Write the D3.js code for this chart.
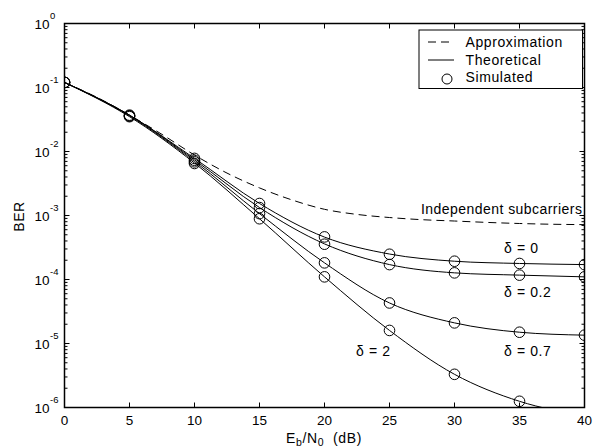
<!DOCTYPE html>
<html>
<head>
<meta charset="utf-8">
<script src="https://cdn.jsdelivr.net/npm/d3@7"></script>
<style>
  html, body { margin: 0; padding: 0; background: #fff; }
  svg { display: block; font-family: "Liberation Sans", Arial, sans-serif; }
</style>
</head>
<body>
<svg id="chart" width="593" height="448"></svg>
<script>
// ---------------- data ----------------
const snrTicks = [0, 5, 10, 15, 20, 25, 30, 35, 40];
const berTickExps = [0, -1, -2, -3, -4, -5, -6];

const snrPoints = [0, 5, 10, 15, 20, 25, 30, 35, 40];
const deltaLabels = ["δ = 0", "δ = 0.2", "δ = 0.7", "δ = 2"];

// theoretical BER curves
const theoDelta0   = [0.12, 0.037, 7.8e-3, 1.54e-3, 4.6e-4, 2.5e-4, 1.93e-4, 1.78e-4, 1.71e-4];
const theoDelta02  = [0.12, 0.037, 7.4e-3, 1.33e-3, 3.6e-4, 1.71e-4, 1.27e-4, 1.17e-4, 1.10e-4];
const theoDelta07  = [0.12, 0.036, 7.0e-3, 1.07e-3, 1.82e-4, 4.3e-5, 2.1e-5, 1.5e-5, 1.35e-5];
const theoDelta2   = [0.12, 0.035, 6.6e-3, 8.9e-4, 1.1e-4, 1.6e-5, 3.3e-6, 1.25e-6, 7.4e-7];

// simulated BER points
const simDelta0   = [0.12, 0.037, 7.8e-3, 1.54e-3, 4.63e-4, 2.48e-4, 1.93e-4, 1.78e-4, 1.71e-4];
const simDelta02  = [0.12, 0.036, 7.3e-3, 1.33e-3, 3.56e-4, 1.71e-4, 1.27e-4, 1.17e-4, 1.10e-4];
const simDelta07  = [0.12, 0.036, 6.9e-3, 1.07e-3, 1.82e-4, 4.3e-5, 2.1e-5, 1.5e-5, 1.35e-5];
const simDelta2   = [0.12, 0.035, 6.5e-3, 8.9e-4, 1.1e-4, 1.6e-5, 3.3e-6, 1.25e-6, 7.4e-7];

// approximation (independent subcarriers)
const approxSnr = [0, 2.5, 5, 7.5, 10, 12.5, 15, 17.5, 20, 22.5, 25, 27.5, 30, 32.5, 35, 37.5, 40];
const approxBer = [0.12, 0.07, 0.037, 0.0185, 8.8e-3, 4.6e-3, 2.7e-3, 1.75e-3, 1.25e-3, 1.04e-3, 9.3e-4, 8.6e-4, 8.2e-4, 7.8e-4, 7.5e-4, 7.3e-4, 7.2e-4];

const legendItems = ["Approximation", "Theoretical", "Simulated"];

// ---------------- layout ----------------
const svg = d3.select("#chart");
const L = 64.5, R = 584.5, T = 23.5, B = 407.5;
const TXT = 14, LS = 0.6;

const x = d3.scaleLinear().domain([0, 40]).range([L, R]);
const y = d3.scaleLog().domain([1e-6, 1]).range([B, T]);

const defs = svg.append("defs");
defs.append("clipPath").attr("id", "plotClip")
  .append("rect").attr("x", L).attr("y", T).attr("width", R - L).attr("height", B - T);

// ---------------- axes / ticks ----------------
const minorY = [];
for (let e = -6; e < 0; e++) for (let m = 2; m <= 9; m++) minorY.push(m * Math.pow(10, e));

const tickG = svg.append("g").attr("stroke", "#000").attr("stroke-width", 1);
snrTicks.forEach(v => {
  tickG.append("line").attr("x1", x(v)).attr("x2", x(v)).attr("y1", B).attr("y2", B - 5);
  tickG.append("line").attr("x1", x(v)).attr("x2", x(v)).attr("y1", T).attr("y2", T + 5);
});
berTickExps.forEach(e => {
  const yy = y(Math.pow(10, e));
  tickG.append("line").attr("x1", L).attr("x2", L + 5).attr("y1", yy).attr("y2", yy);
  tickG.append("line").attr("x1", R).attr("x2", R - 5).attr("y1", yy).attr("y2", yy);
});
minorY.forEach(v => {
  const yy = y(v);
  tickG.append("line").attr("x1", L).attr("x2", L + 3).attr("y1", yy).attr("y2", yy);
  tickG.append("line").attr("x1", R).attr("x2", R - 3).attr("y1", yy).attr("y2", yy);
});

// x tick labels
svg.append("g").selectAll("text").data(snrTicks).join("text")
  .attr("x", d => x(d)).attr("y", 425)
  .attr("text-anchor", "middle").attr("font-size", 13.5).attr("fill", "#000")
  .text(d => d);

// y tick labels 10^e
const yl = svg.append("g").attr("fill", "#000");
berTickExps.forEach(e => {
  const yy = y(Math.pow(10, e));
  yl.append("text").attr("x", 49.5).attr("y", yy + 5).attr("text-anchor", "end")
    .attr("font-size", 13.5).text("10");
  yl.append("text").attr("x", 50).attr("y", yy - 4.5).attr("text-anchor", "start")
    .attr("font-size", 9.5).text(e === 0 ? "0" : "-" + Math.abs(e));
});

// axis titles
svg.append("text").attr("transform", "translate(24,216.5) rotate(-90)")
  .attr("text-anchor", "middle").attr("font-size", TXT).attr("letter-spacing", LS)
  .attr("fill", "#000").text("BER");

const xt = svg.append("text").attr("x", 324).attr("y", 442.5).attr("text-anchor", "middle")
  .attr("font-size", TXT).attr("letter-spacing", LS).attr("fill", "#000");
xt.append("tspan").text("E");
xt.append("tspan").attr("font-size", 10.5).attr("dy", 3).text("b");
xt.append("tspan").attr("dy", -3).text("/N");
xt.append("tspan").attr("font-size", 10.5).attr("dy", 3).text("0");
xt.append("tspan").attr("dy", -3).attr("xml:space", "preserve").text("  (dB)");

// ---------------- curves ----------------
const plot = svg.append("g").attr("clip-path", "url(#plotClip)");
const line = d3.line().x(d => x(d[0])).y(d => y(d[1])).curve(d3.curveMonotoneX);

plot.append("path")
  .attr("d", line(approxSnr.map((s, i) => [s, approxBer[i]])))
  .attr("fill", "none").attr("stroke", "#000").attr("stroke-width", 1)
  .attr("stroke-dasharray", "8,5");

const theo = [theoDelta0, theoDelta02, theoDelta07, theoDelta2];
const sim = [simDelta0, simDelta02, simDelta07, simDelta2];

theo.forEach(arr => {
  plot.append("path")
    .attr("d", line(snrPoints.map((s, i) => [s, arr[i]])))
    .attr("fill", "none").attr("stroke", "#000").attr("stroke-width", 1);
});

sim.forEach(arr => {
  plot.append("g").selectAll("circle")
    .data(snrPoints.map((s, i) => [s, arr[i]]).filter(d => d[1] >= 1e-6))
    .join("circle")
    .attr("cx", d => x(d[0])).attr("cy", d => y(d[1])).attr("r", 5.3)
    .attr("fill", "none").attr("stroke", "#000").attr("stroke-width", 1);
});

// ---------------- annotations ----------------
const ann = svg.append("g").attr("font-size", TXT).attr("letter-spacing", LS).attr("fill", "#000");
ann.append("text").attr("x", 421).attr("y", 214).attr("letter-spacing", 0.45).text("Independent subcarriers");
ann.append("text").attr("x", 504).attr("y", 253).text(deltaLabels[0]);
ann.append("text").attr("x", 504).attr("y", 296.5).text(deltaLabels[1]);
ann.append("text").attr("x", 504).attr("y", 355.5).text(deltaLabels[2]);
ann.append("text").attr("x", 356).attr("y", 355.5).text(deltaLabels[3]);

// ---------------- frame ----------------
svg.append("rect").attr("x", L).attr("y", T).attr("width", R - L).attr("height", B - T)
  .attr("fill", "none").attr("stroke", "#000").attr("stroke-width", 1.5);

// ---------------- legend ----------------
const lg = svg.append("g");
lg.append("rect").attr("x", 419).attr("y", 30).attr("width", 163.5).attr("height", 58.5)
  .attr("fill", "#fff").attr("stroke", "#000").attr("stroke-width", 1);
const rowsY = [42, 60, 77.5];
lg.append("line").attr("x1", 428).attr("x2", 454).attr("y1", rowsY[0]).attr("y2", rowsY[0])
  .attr("stroke", "#000").attr("stroke-dasharray", "8,5");
lg.append("line").attr("x1", 428).attr("x2", 454).attr("y1", rowsY[1]).attr("y2", rowsY[1])
  .attr("stroke", "#000");
lg.append("circle").attr("cx", 447).attr("cy", rowsY[2] + 1.5).attr("r", 5)
  .attr("fill", "none").attr("stroke", "#000");
lg.selectAll("text.lt").data(legendItems).join("text")
  .attr("x", 465.5).attr("y", (d, i) => rowsY[i] + 4.5)
  .attr("font-size", TXT).attr("letter-spacing", LS).attr("fill", "#000").text(d => d);
</script>
</body>
</html>
